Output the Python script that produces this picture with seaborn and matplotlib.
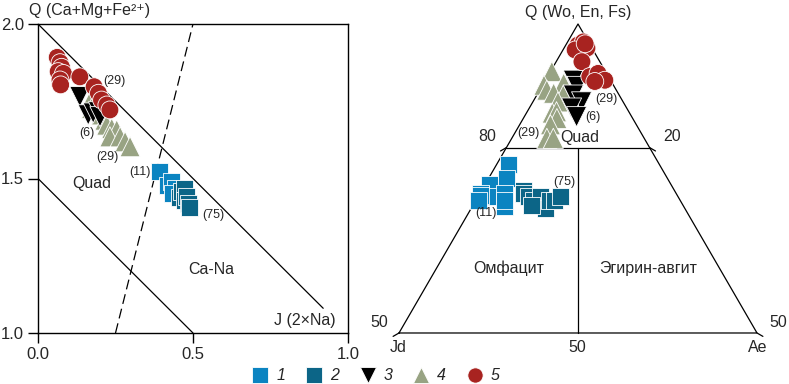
import numpy as np
import pandas as pd
import matplotlib
matplotlib.use("Agg")
import matplotlib.pyplot as plt
from matplotlib.lines import Line2D
import seaborn as sns

# --- data ---
# left panel: J (2Na) vs Q (Ca+Mg+Fe2+)
j_1 = [0.391, 0.419, 0.431, 0.442, 0.435]
q_1 = [1.522, 1.476, 1.490, 1.469, 1.452]
j_2 = [0.458, 0.464, 0.471, 0.474, 0.480, 0.485, 0.490]
q_2 = [1.440, 1.457, 1.469, 1.430, 1.441, 1.420, 1.405]
j_3 = [0.135, 0.162, 0.178, 0.195, 0.200]
q_3 = [1.765, 1.706, 1.712, 1.716, 1.700]
j_4 = [0.168, 0.173, 0.205, 0.216, 0.222, 0.238, 0.254, 0.232, 0.265, 0.281, 0.297]
q_4 = [1.749, 1.727, 1.706, 1.689, 1.673, 1.662, 1.657, 1.635, 1.635, 1.619, 1.603]
j_5 = [0.062, 0.071, 0.076, 0.065, 0.082, 0.071, 0.073, 0.135, 0.181, 0.195, 0.205, 0.222, 0.232]
q_5 = [1.892, 1.875, 1.860, 1.846, 1.840, 1.819, 1.803, 1.829, 1.797, 1.776, 1.754, 1.738, 1.722]

# right panel: ternary Q (Wo+En+Fs), Ae, Jd = 100 - Q - Ae  (percent)
tq_1 = [77.2, 75.0, 74.0, 72.6, 72.1, 72.6, 70.4, 71.5, 72.3, 71.5]
tae_1 = [1.7, 2.5, 0.7, 0.1, 1.7, 3.5, 4.6, 4.0, 0.3, 0.3]
tq_2 = [73.1, 72.6, 72.1, 71.5, 72.1, 70.2, 71.5, 70.7, 71.5, 72.1]
tae_2 = [5.8, 6.1, 7.0, 8.0, 8.7, 10.3, 10.3, 8.2, 11.0, 11.5]
tq_3 = [90.9, 89.9, 88.5, 87.4, 86.4, 85.0]
tae_3 = [3.9, 4.9, 5.1, 6.8, 5.9, 7.3]
tq_4 = [92.3, 90.1, 89.3, 90.4, 88.8, 88.5, 87.4, 85.6, 85.8, 84.7, 83.7, 81.5, 81.5]
tae_4 = [0.2, 0.2, 1.0, 2.8, 2.2, 3.7, 3.5, 3.6, 4.1, 4.7, 4.3, 4.9, 5.8]
tq_5 = [96.6, 97.1, 96.1, 95.8, 96.8, 93.9, 91.5, 92.0, 90.9, 90.7]
tae_5 = [1.7, 2.2, 3.2, 1.7, 2.6, 3.6, 5.9, 6.8, 8.3, 7.0]

groups = ["1", "2", "3", "4", "5"]
draw_order = ["1", "2", "4", "3", "5"]
palette = {"1": "#0b84c1", "2": "#0c6587", "3": "#000000", "4": "#98a383", "5": "#a82320"}
markers = {"1": "s", "2": "s", "3": "v", "4": "^", "5": "o"}
msizes = {"1": 150, "2": 150, "3": 210, "4": 210, "5": 165}

SQ3 = np.sqrt(3) / 2


def tern_xy(q, ae):
    q = np.asarray(q, dtype=float)
    ae = np.asarray(ae, dtype=float)
    return ae / 100 + q / 200, q / 100 * SQ3


left_data = dict(zip(groups, zip([j_1, j_2, j_3, j_4, j_5], [q_1, q_2, q_3, q_4, q_5])))
tern_data = dict(zip(groups, zip([tq_1, tq_2, tq_3, tq_4, tq_5], [tae_1, tae_2, tae_3, tae_4, tae_5])))

left_parts = []
right_parts = []
for g in draw_order:
    jj, qq = left_data[g]
    left_parts.append(pd.DataFrame({"J": jj, "Q": qq, "group": g}))
    tx, ty = tern_xy(*tern_data[g])
    right_parts.append(pd.DataFrame({"x": tx, "y": ty, "group": g}))
df_left = pd.concat(left_parts, ignore_index=True)
df_right = pd.concat(right_parts, ignore_index=True)

sns.set_style("ticks")
plt.rcParams["font.family"] = ["Liberation Sans", "DejaVu Sans"]
plt.rcParams["font.size"] = 11.5

W, H = 789, 384
fig = plt.figure(figsize=(W / 100, H / 100), dpi=100)

# --- left panel ---
ax1 = fig.add_axes([38 / W, 1 - 333 / H, 310 / W, 309 / H])
sns.scatterplot(data=df_left, x="J", y="Q", hue="group", style="group", size="group",
                palette=palette, markers=markers, sizes=msizes, edgecolor="white",
                linewidth=0.6, legend=False, ax=ax1, zorder=3)
ax1.set_xlim(0, 1)
ax1.set_ylim(1, 2)
ax1.set_xticks([0, 0.5, 1.0])
ax1.set_yticks([1.0, 1.5, 2.0])
ax1.set_xticklabels(["0.0", "0.5", "1.0"])
ax1.set_yticklabels(["1.0", "1.5", "2.0"])
ax1.set_xlabel("")
ax1.set_ylabel("")
ax1.tick_params(direction="out", length=7, width=1, labelsize=12, color="black", pad=3)
for sp in ax1.spines.values():
    sp.set_visible(True)
    sp.set_linewidth(1)
    sp.set_color("black")

ax1.plot([0, 0.92], [2, 1.08], color="black", lw=0.9, zorder=1)
ax1.plot([0, 0.5], [1.5, 1.0], color="black", lw=0.9, zorder=1)
ax1.plot([0.25, 0.5], [1.0, 2.0], color="black", lw=0.9, ls=(0, (8, 4)), zorder=1)

ax1.text(-0.029, 2.045, "Q (Ca+Mg+Fe²⁺)", ha="left", va="center", fontsize=11.5, clip_on=False)
ax1.text(0.173, 1.485, "Quad", ha="center", va="center", fontsize=11.5)
ax1.text(0.560, 1.204, "Ca-Na", ha="center", va="center", fontsize=11.5)
ax1.text(0.861, 1.042, "J (2×Na)", ha="center", va="center", fontsize=11.5)
for txt, x, y in [("(29)", 0.245, 1.8155), ("(6)", 0.159, 1.646), ("(29)", 0.224, 1.571),
                  ("(11)", 0.329, 1.52), ("(75)", 0.566, 1.382)]:
    ax1.text(x, y, txt, ha="center", va="center", fontsize=9, zorder=4)

# --- right panel (upper half of Q-Jd-Ae triangle) ---
ax2 = fig.add_axes([370 / W, 0, 419 / W, 1])
ax2.set_xlim(0.25 + (370 - 399) / 716, 0.25 + (789 - 399) / 716)
ax2.set_ylim(0.433 + (333 - 384) / 713.6, 0.433 + 333 / 713.6)
ax2.axis("off")


def tline(q_pts, ae_pts, **kw):
    x, y = tern_xy(q_pts, ae_pts)
    ax2.plot(x, y, color="black", lw=0.9, zorder=1, **kw)


tline([50, 100, 50, 50], [0, 0, 50, 0])        # outline
tline([80, 80], [0, 20])                        # Q = 80
tline([80, 50], [10, 25])                       # Jd = Ae
tick = 0.0095
for q, ae, dx in [(50, 0, -1), (80, 0, -1), (80, 20, 1), (50, 50, 1)]:
    x0, y0 = tern_xy(q, ae)
    ax2.plot([x0, x0 + dx * SQ3 * tick], [y0, y0 - 0.5 * tick], color="black", lw=0.9)

sns.scatterplot(data=df_right, x="x", y="y", hue="group", style="group", size="group",
                palette=palette, markers=markers, sizes=msizes, edgecolor="white",
                linewidth=0.6, legend=False, ax=ax2, zorder=3)
ax2.set_xlabel("")
ax2.set_ylabel("")

for txt, x, y, fs in [("Q (Wo, En, Fs)", 0.5, 0.8828, 11.5), ("Quad", 0.5028, 0.7063, 11.5),
                      ("80", 0.3729, 0.709, 11.5), ("20", 0.6309, 0.709, 11.5),
                      ("(29)", 0.5401, 0.7609, 9), ("(6)", 0.5205, 0.7357, 9),
                      ("(29)", 0.4306, 0.7133, 9), ("(75)", 0.4804, 0.6446, 9),
                      ("(11)", 0.3711, 0.6007, 9), ("Омфацит", 0.4027, 0.5237, 11.5),
                      ("Эгирин-авгит", 0.5982, 0.5237, 11.5), ("50", 0.2221, 0.4484, 11.5),
                      ("50", 0.7793, 0.4484, 11.5), ("Jd", 0.2486, 0.412, 11.5),
                      ("50", 0.4986, 0.412, 11.5), ("Ae", 0.7514, 0.412, 11.5)]:
    ax2.text(x, y, txt, ha="center", va="center", fontsize=fs, zorder=4)

# --- legend ---
handles = [Line2D([], [], ls="none", marker=markers[g], color=palette[g], markersize=11,
                  markeredgecolor="white", markeredgewidth=0.6) for g in groups]
leg = fig.legend(handles, groups, loc="center", bbox_to_anchor=(376 / W, 1 - 376 / H), ncol=5,
                 frameon=False, handlelength=1.0, handletextpad=0.5, columnspacing=1.3,
                 fontsize=11.5)
for t in leg.get_texts():
    t.set_fontstyle("italic")

fig.savefig("out.png", dpi=100)
